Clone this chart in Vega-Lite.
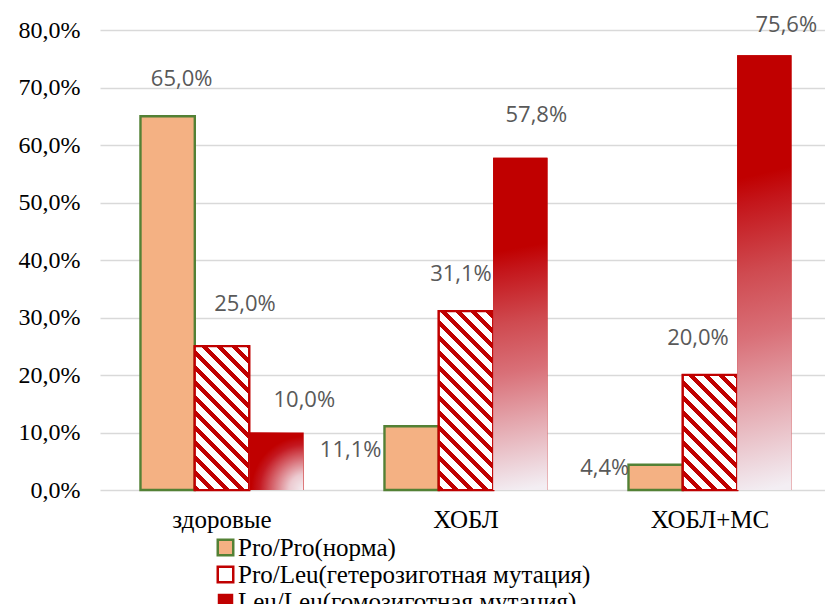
{
  "$schema": "https://vega.github.io/schema/vega-lite/v6.json",
  "width": 725,
  "height": 460,
  "autosize": {"type": "none"},
  "padding": {"left": 100, "top": 30, "right": 0, "bottom": 114},
  "background": "#ffffff",
  "config": {
    "font": "Liberation Serif",
    "locale": {"number": {"decimal": ",", "thousands": " ", "grouping": [3], "currency": ["", ""]}},
    "view": {"stroke": null},
    "axis": {"labelFont": "Liberation Serif", "labelColor": "#000000"},
    "legend": {"labelFont": "Liberation Serif"},
    "text": {"font": "Open Sans", "fontSize": 22, "fill": "#595959", "align": "center", "baseline": "middle"}
  },
  "data": {
    "values": [
      {"group": "здоровые", "genotype": "Pro/Pro(норма)", "share": 0.65},
      {"group": "здоровые", "genotype": "Pro/Leu(гетерозиготная мутация)", "share": 0.25},
      {"group": "здоровые", "genotype": "Leu/Leu(гомозиготная мутация)", "share": 0.1},
      {"group": "ХОБЛ", "genotype": "Pro/Pro(норма)", "share": 0.111},
      {"group": "ХОБЛ", "genotype": "Pro/Leu(гетерозиготная мутация)", "share": 0.311},
      {"group": "ХОБЛ", "genotype": "Leu/Leu(гомозиготная мутация)", "share": 0.578},
      {"group": "ХОБЛ+МС", "genotype": "Pro/Pro(норма)", "share": 0.044},
      {"group": "ХОБЛ+МС", "genotype": "Pro/Leu(гетерозиготная мутация)", "share": 0.2},
      {"group": "ХОБЛ+МС", "genotype": "Leu/Leu(гомозиготная мутация)", "share": 0.756}
    ]
  },
  "encoding": {
    "x": {
      "field": "group", "type": "nominal", "sort": ["здоровые", "ХОБЛ", "ХОБЛ+МС"],
      "scale": {"paddingInner": 0.332, "paddingOuter": 0.1516, "align": 0.547},
      "axis": {
        "title": null, "labelAngle": 0, "ticks": false, "domain": false, "grid": false,
        "labelFontSize": 25, "labelColor": "#000000",
        "labelBaseline": "alphabetic", "labelPadding": 37
      }
    },
    "xOffset": {
      "field": "genotype", "type": "nominal",
      "sort": ["Pro/Pro(норма)", "Pro/Leu(гетерозиготная мутация)", "Leu/Leu(гомозиготная мутация)"],
      "scale": {"paddingInner": 0, "paddingOuter": 0}
    },
    "y": {
      "field": "share", "type": "quantitative",
      "scale": {"domain": [0, 0.8]},
      "axis": {
        "title": null, "values": [0, 0.1, 0.2, 0.3, 0.4, 0.5, 0.6, 0.7, 0.8], "format": ".1%",
        "ticks": false, "domain": false, "grid": true, "gridColor": "#d9d9d9", "gridWidth": 1.6,
        "labelFontSize": 24, "labelColor": "#000000", "labelPadding": 20
      }
    }
  },
  "layer": [
    {
      "mark": {"type": "bar", "strokeWidth": 2.4},
      "encoding": {
        "fill": {
          "field": "genotype", "type": "nominal",
          "scale": {
            "domain": ["Pro/Pro(норма)", "Pro/Leu(гетерозиготная мутация)", "Leu/Leu(гомозиготная мутация)"],
            "range": ["#f4b183", "#ffffff", "#c00000"]
          },
          "legend": {
            "title": null, "orient": "none", "legendX": 113, "legendY": 505, "direction": "vertical",
            "padding": 0, "symbolType": "square", "symbolSize": 240, "symbolStrokeWidth": 2.5,
            "labelFontSize": 25, "labelColor": "#000000",
            "labelLimit": 700, "labelOffset": 0, "rowPadding": 0,
            "encode": {
              "symbols": {
                "update": {
                  "fill": [
                    {
                      "test": "datum.value === 'Leu/Leu(гомозиготная мутация)'",
                      "value": {
                        "gradient": "radial", "x1": 1, "y1": 1, "r1": 0, "x2": 1, "y2": 1, "r2": 1.1,
                        "stops": [
                          {"offset": 0, "color": "#f5f1f5"},
                          {"offset": 0.25, "color": "#eccad0"},
                          {"offset": 0.5, "color": "#d76a72"},
                          {"offset": 0.72, "color": "#c41820"},
                          {"offset": 0.85, "color": "#c00000"},
                          {"offset": 1, "color": "#c00000"}
                        ]
                      }
                    },
                    {"scale": "fill", "field": "value"}
                  ]
                }
              }
            }
          }
        },
        "stroke": {
          "field": "genotype", "type": "nominal",
          "scale": {
            "domain": ["Pro/Pro(норма)", "Pro/Leu(гетерозиготная мутация)", "Leu/Leu(гомозиготная мутация)"],
            "range": ["#538135", "#c00000", "transparent"]
          }
        }
      }
    },
    {
      "transform": [{"filter": "datum.group === 'здоровые' && datum.genotype === 'Pro/Leu(гетерозиготная мутация)'"}],
      "mark": {
        "type": "bar", "stroke": "#c00000", "strokeWidth": 2.2,
        "fill": {
          "gradient": "linear", "x1": 0, "y1": 1, "x2": 0.4831, "y2": -0.2783,
          "stops": [
            {"offset": 0, "color": "#c00000"}, {"offset": 0.025, "color": "#c00000"}, {"offset": 0.025, "color": "#ffffff"}, {"offset": 0.0714, "color": "#ffffff"},
            {"offset": 0.0714, "color": "#c00000"}, {"offset": 0.0964, "color": "#c00000"}, {"offset": 0.0964, "color": "#ffffff"}, {"offset": 0.1429, "color": "#ffffff"},
            {"offset": 0.1429, "color": "#c00000"}, {"offset": 0.1679, "color": "#c00000"}, {"offset": 0.1679, "color": "#ffffff"}, {"offset": 0.2143, "color": "#ffffff"},
            {"offset": 0.2143, "color": "#c00000"}, {"offset": 0.2393, "color": "#c00000"}, {"offset": 0.2393, "color": "#ffffff"}, {"offset": 0.2857, "color": "#ffffff"},
            {"offset": 0.2857, "color": "#c00000"}, {"offset": 0.3107, "color": "#c00000"}, {"offset": 0.3107, "color": "#ffffff"}, {"offset": 0.3571, "color": "#ffffff"},
            {"offset": 0.3571, "color": "#c00000"}, {"offset": 0.3821, "color": "#c00000"}, {"offset": 0.3821, "color": "#ffffff"}, {"offset": 0.4286, "color": "#ffffff"},
            {"offset": 0.4286, "color": "#c00000"}, {"offset": 0.4536, "color": "#c00000"}, {"offset": 0.4536, "color": "#ffffff"}, {"offset": 0.5, "color": "#ffffff"},
            {"offset": 0.5, "color": "#c00000"}, {"offset": 0.525, "color": "#c00000"}, {"offset": 0.525, "color": "#ffffff"}, {"offset": 0.5714, "color": "#ffffff"},
            {"offset": 0.5714, "color": "#c00000"}, {"offset": 0.5964, "color": "#c00000"}, {"offset": 0.5964, "color": "#ffffff"}, {"offset": 0.6429, "color": "#ffffff"},
            {"offset": 0.6429, "color": "#c00000"}, {"offset": 0.6679, "color": "#c00000"}, {"offset": 0.6679, "color": "#ffffff"}, {"offset": 0.7143, "color": "#ffffff"},
            {"offset": 0.7143, "color": "#c00000"}, {"offset": 0.7393, "color": "#c00000"}, {"offset": 0.7393, "color": "#ffffff"}, {"offset": 0.7857, "color": "#ffffff"},
            {"offset": 0.7857, "color": "#c00000"}, {"offset": 0.8107, "color": "#c00000"}, {"offset": 0.8107, "color": "#ffffff"}, {"offset": 0.8571, "color": "#ffffff"},
            {"offset": 0.8571, "color": "#c00000"}, {"offset": 0.8821, "color": "#c00000"}, {"offset": 0.8821, "color": "#ffffff"}, {"offset": 0.9286, "color": "#ffffff"},
            {"offset": 0.9286, "color": "#c00000"}, {"offset": 0.9536, "color": "#c00000"}, {"offset": 0.9536, "color": "#ffffff"}, {"offset": 1, "color": "#ffffff"}
          ]
        }
      }
    },
    {
      "transform": [{"filter": "datum.group === 'ХОБЛ' && datum.genotype === 'Pro/Leu(гетерозиготная мутация)'"}],
      "mark": {
        "type": "bar", "stroke": "#c00000", "strokeWidth": 2.2,
        "fill": {
          "gradient": "linear", "x1": 0, "y1": 1, "x2": 0.3733, "y2": -0.2287,
          "stops": [
            {"offset": 0, "color": "#c00000"}, {"offset": 0.0219, "color": "#c00000"}, {"offset": 0.0219, "color": "#ffffff"}, {"offset": 0.0625, "color": "#ffffff"},
            {"offset": 0.0625, "color": "#c00000"}, {"offset": 0.0844, "color": "#c00000"}, {"offset": 0.0844, "color": "#ffffff"}, {"offset": 0.125, "color": "#ffffff"},
            {"offset": 0.125, "color": "#c00000"}, {"offset": 0.1469, "color": "#c00000"}, {"offset": 0.1469, "color": "#ffffff"}, {"offset": 0.1875, "color": "#ffffff"},
            {"offset": 0.1875, "color": "#c00000"}, {"offset": 0.2094, "color": "#c00000"}, {"offset": 0.2094, "color": "#ffffff"}, {"offset": 0.25, "color": "#ffffff"},
            {"offset": 0.25, "color": "#c00000"}, {"offset": 0.2719, "color": "#c00000"}, {"offset": 0.2719, "color": "#ffffff"}, {"offset": 0.3125, "color": "#ffffff"},
            {"offset": 0.3125, "color": "#c00000"}, {"offset": 0.3344, "color": "#c00000"}, {"offset": 0.3344, "color": "#ffffff"}, {"offset": 0.375, "color": "#ffffff"},
            {"offset": 0.375, "color": "#c00000"}, {"offset": 0.3969, "color": "#c00000"}, {"offset": 0.3969, "color": "#ffffff"}, {"offset": 0.4375, "color": "#ffffff"},
            {"offset": 0.4375, "color": "#c00000"}, {"offset": 0.4594, "color": "#c00000"}, {"offset": 0.4594, "color": "#ffffff"}, {"offset": 0.5, "color": "#ffffff"},
            {"offset": 0.5, "color": "#c00000"}, {"offset": 0.5219, "color": "#c00000"}, {"offset": 0.5219, "color": "#ffffff"}, {"offset": 0.5625, "color": "#ffffff"},
            {"offset": 0.5625, "color": "#c00000"}, {"offset": 0.5844, "color": "#c00000"}, {"offset": 0.5844, "color": "#ffffff"}, {"offset": 0.625, "color": "#ffffff"},
            {"offset": 0.625, "color": "#c00000"}, {"offset": 0.6469, "color": "#c00000"}, {"offset": 0.6469, "color": "#ffffff"}, {"offset": 0.6875, "color": "#ffffff"},
            {"offset": 0.6875, "color": "#c00000"}, {"offset": 0.7094, "color": "#c00000"}, {"offset": 0.7094, "color": "#ffffff"}, {"offset": 0.75, "color": "#ffffff"},
            {"offset": 0.75, "color": "#c00000"}, {"offset": 0.7719, "color": "#c00000"}, {"offset": 0.7719, "color": "#ffffff"}, {"offset": 0.8125, "color": "#ffffff"},
            {"offset": 0.8125, "color": "#c00000"}, {"offset": 0.8344, "color": "#c00000"}, {"offset": 0.8344, "color": "#ffffff"}, {"offset": 0.875, "color": "#ffffff"},
            {"offset": 0.875, "color": "#c00000"}, {"offset": 0.8969, "color": "#c00000"}, {"offset": 0.8969, "color": "#ffffff"}, {"offset": 0.9375, "color": "#ffffff"},
            {"offset": 0.9375, "color": "#c00000"}, {"offset": 0.9594, "color": "#c00000"}, {"offset": 0.9594, "color": "#ffffff"}, {"offset": 1, "color": "#ffffff"}
          ]
        }
      }
    },
    {
      "transform": [{"filter": "datum.group === 'ХОБЛ+МС' && datum.genotype === 'Pro/Leu(гетерозиготная мутация)'"}],
      "mark": {
        "type": "bar", "stroke": "#c00000", "strokeWidth": 2.2,
        "fill": {
          "gradient": "linear", "x1": 0, "y1": 1, "x2": 0.6045, "y2": -0.2796,
          "stops": [
            {"offset": 0, "color": "#c00000"}, {"offset": 0.0292, "color": "#c00000"}, {"offset": 0.0292, "color": "#ffffff"}, {"offset": 0.0833, "color": "#ffffff"},
            {"offset": 0.0833, "color": "#c00000"}, {"offset": 0.1125, "color": "#c00000"}, {"offset": 0.1125, "color": "#ffffff"}, {"offset": 0.1667, "color": "#ffffff"},
            {"offset": 0.1667, "color": "#c00000"}, {"offset": 0.1958, "color": "#c00000"}, {"offset": 0.1958, "color": "#ffffff"}, {"offset": 0.25, "color": "#ffffff"},
            {"offset": 0.25, "color": "#c00000"}, {"offset": 0.2792, "color": "#c00000"}, {"offset": 0.2792, "color": "#ffffff"}, {"offset": 0.3333, "color": "#ffffff"},
            {"offset": 0.3333, "color": "#c00000"}, {"offset": 0.3625, "color": "#c00000"}, {"offset": 0.3625, "color": "#ffffff"}, {"offset": 0.4167, "color": "#ffffff"},
            {"offset": 0.4167, "color": "#c00000"}, {"offset": 0.4458, "color": "#c00000"}, {"offset": 0.4458, "color": "#ffffff"}, {"offset": 0.5, "color": "#ffffff"},
            {"offset": 0.5, "color": "#c00000"}, {"offset": 0.5292, "color": "#c00000"}, {"offset": 0.5292, "color": "#ffffff"}, {"offset": 0.5833, "color": "#ffffff"},
            {"offset": 0.5833, "color": "#c00000"}, {"offset": 0.6125, "color": "#c00000"}, {"offset": 0.6125, "color": "#ffffff"}, {"offset": 0.6667, "color": "#ffffff"},
            {"offset": 0.6667, "color": "#c00000"}, {"offset": 0.6958, "color": "#c00000"}, {"offset": 0.6958, "color": "#ffffff"}, {"offset": 0.75, "color": "#ffffff"},
            {"offset": 0.75, "color": "#c00000"}, {"offset": 0.7792, "color": "#c00000"}, {"offset": 0.7792, "color": "#ffffff"}, {"offset": 0.8333, "color": "#ffffff"},
            {"offset": 0.8333, "color": "#c00000"}, {"offset": 0.8625, "color": "#c00000"}, {"offset": 0.8625, "color": "#ffffff"}, {"offset": 0.9167, "color": "#ffffff"},
            {"offset": 0.9167, "color": "#c00000"}, {"offset": 0.9458, "color": "#c00000"}, {"offset": 0.9458, "color": "#ffffff"}, {"offset": 1, "color": "#ffffff"}
          ]
        }
      }
    },
    {
      "transform": [{"filter": "datum.genotype === 'Leu/Leu(гомозиготная мутация)' && datum.group !== 'здоровые'"}],
      "mark": {
        "type": "bar",
        "fill": {
          "gradient": "linear", "x1": 0.5, "y1": 0, "x2": 0.53, "y2": 1,
          "stops": [
            {"offset": 0, "color": "#c00000"},
            {"offset": 0.27, "color": "#c00000"},
            {"offset": 0.33, "color": "#c4151a"},
            {"offset": 0.49, "color": "#cf4a50"},
            {"offset": 0.64, "color": "#d97078"},
            {"offset": 0.79, "color": "#e4a6ad"},
            {"offset": 0.95, "color": "#efdde3"},
            {"offset": 1, "color": "#f3eef3"}
          ]
        }
      }
    },
    {
      "transform": [{"filter": "datum.genotype === 'Leu/Leu(гомозиготная мутация)' && datum.group === 'здоровые'"}],
      "mark": {
        "type": "bar",
        "fill": {
          "gradient": "radial", "x1": 1, "y1": 1, "r1": 0, "x2": 1, "y2": 1, "r2": 1.1,
          "stops": [
            {"offset": 0, "color": "#f5f1f5"},
            {"offset": 0.25, "color": "#eccad0"},
            {"offset": 0.5, "color": "#d76a72"},
            {"offset": 0.72, "color": "#c41820"},
            {"offset": 0.85, "color": "#c00000"},
            {"offset": 1, "color": "#c00000"}
          ]
        }
      }
    },
    {
      "encoding": {"text": {"field": "share", "type": "quantitative", "format": ".1%"}},
      "layer": [
        {"transform": [{"filter": "datum.group === 'здоровые' && datum.genotype === 'Pro/Pro(норма)'"}], "mark": {"type": "text", "dx": 14, "dy": -37}},
        {"transform": [{"filter": "datum.group === 'здоровые' && datum.genotype === 'Pro/Leu(гетерозиготная мутация)'"}], "mark": {"type": "text", "dx": 23, "dy": -42}},
        {"transform": [{"filter": "datum.group === 'здоровые' && datum.genotype === 'Leu/Leu(гомозиготная мутация)'"}], "mark": {"type": "text", "dx": 28, "dy": -33}},
        {"transform": [{"filter": "datum.group === 'ХОБЛ' && datum.genotype === 'Pro/Pro(норма)'"}], "mark": {"type": "text", "dx": -61, "dy": 24}},
        {"transform": [{"filter": "datum.group === 'ХОБЛ' && datum.genotype === 'Pro/Leu(гетерозиготная мутация)'"}], "mark": {"type": "text", "dx": -5, "dy": -37}},
        {"transform": [{"filter": "datum.group === 'ХОБЛ' && datum.genotype === 'Leu/Leu(гомозиготная мутация)'"}], "mark": {"type": "text", "dx": 16, "dy": -43}},
        {"transform": [{"filter": "datum.group === 'ХОБЛ+МС' && datum.genotype === 'Pro/Pro(норма)'"}], "mark": {"type": "text", "dx": -51, "dy": 3}},
        {"transform": [{"filter": "datum.group === 'ХОБЛ+МС' && datum.genotype === 'Pro/Leu(гетерозиготная мутация)'"}], "mark": {"type": "text", "dx": -12, "dy": -37}},
        {"transform": [{"filter": "datum.group === 'ХОБЛ+МС' && datum.genotype === 'Leu/Leu(гомозиготная мутация)'"}], "mark": {"type": "text", "dx": 22, "dy": -30}}
      ]
    }
  ]
}
